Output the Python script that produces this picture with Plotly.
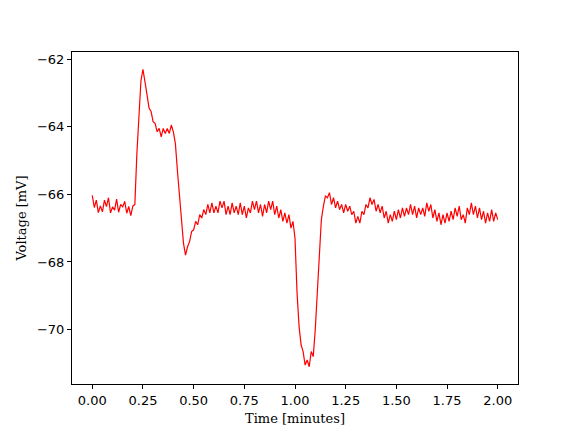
import numpy as np
import plotly.graph_objects as go

# sample times [minutes], one sample every 0.01 min
time_min = np.round(np.arange(0, 201) * 0.01, 2)

# membrane voltage [mV]
voltage_mv = [
    -66.03, -66.39, -66.17, -66.54, -66.34, -66.52, -66.17, -66.36, -66.10, -66.55,
    -66.37, -66.47, -66.14, -66.53, -66.30, -66.37, -66.21, -66.56, -66.36, -66.63,
    -66.35, -66.30, -64.80, -63.55, -62.65, -62.30, -62.75, -63.05, -63.45, -63.55,
    -63.85, -63.90, -64.15, -64.05, -64.30, -64.05, -64.20, -64.05, -64.20, -63.95,
    -64.15, -64.50, -65.30, -66.10, -66.80, -67.45, -67.80, -67.55, -67.40, -67.10,
    -67.05, -66.80, -66.90, -66.60, -66.70, -66.45, -66.60, -66.30, -66.55, -66.25,
    -66.55, -66.35, -66.55, -66.20, -66.40, -66.20, -66.60, -66.35, -66.60, -66.25,
    -66.55, -66.35, -66.60, -66.25, -66.60, -66.35, -66.70, -66.40, -66.55, -66.20,
    -66.45, -66.20, -66.55, -66.30, -66.65, -66.30, -66.55, -66.20, -66.45, -66.20,
    -66.60, -66.35, -66.70, -66.45, -66.80, -66.55, -66.85, -66.60, -67.00, -66.80,
    -67.30, -68.90, -69.90, -70.45, -70.65, -71.05, -70.90, -71.10, -70.65, -70.80,
    -70.00, -68.80, -67.60, -66.75, -66.35, -66.05, -66.10, -65.95, -66.30, -66.10,
    -66.40, -66.20, -66.45, -66.30, -66.55, -66.30, -66.50, -66.35, -66.60, -66.50,
    -66.85, -66.65, -66.85, -66.50, -66.60, -66.30, -66.40, -66.10, -66.30, -66.15,
    -66.50, -66.30, -66.55, -66.35, -66.70, -66.50, -66.85, -66.60, -66.80, -66.50,
    -66.75, -66.45, -66.70, -66.40, -66.65, -66.40, -66.60, -66.30, -66.60, -66.35,
    -66.70, -66.40, -66.60, -66.40, -66.65, -66.25, -66.50, -66.30, -66.70, -66.45,
    -66.80, -66.55, -66.90, -66.60, -66.85, -66.55, -66.80, -66.50, -66.75, -66.40,
    -66.65, -66.35, -66.75, -66.60, -66.85, -66.40, -66.60, -66.25, -66.60, -66.35,
    -66.70, -66.40, -66.75, -66.50, -66.85, -66.55, -66.80, -66.45, -66.80, -66.55,
    -66.75,
]

x_ticks = [0, 0.25, 0.5, 0.75, 1.0, 1.25, 1.5, 1.75, 2.0]
x_labels = ["0.00", "0.25", "0.50", "0.75", "1.00", "1.25", "1.50", "1.75", "2.00"]
y_ticks = [-70, -68, -66, -64, -62]
y_labels = ["\u221270", "\u221268", "\u221266", "\u221264", "\u221262"]

fig = go.Figure(go.Scatter(
    x=time_min, y=voltage_mv, mode="lines",
    line=dict(color="red", width=1.2),
    showlegend=False,
))

axis_style = dict(
    showline=True, linecolor="black", linewidth=1, mirror=True,
    ticks="outside", ticklen=4, tickwidth=1, tickcolor="black",
    showgrid=False, zeroline=False, automargin=False,
    tickfont=dict(family="DejaVu Sans", size=13, color="black"),
)

fig.update_xaxes(
    range=[-0.1, 2.1], tickvals=x_ticks, ticktext=x_labels,
    title=dict(text="Time [minutes]", font=dict(family="DejaVu Serif", size=13, color="black"), standoff=7),
    **axis_style,
)
fig.update_yaxes(
    range=[-71.61, -61.79], tickvals=y_ticks, ticktext=y_labels,
    title=dict(text="Voltage [mV]", font=dict(family="DejaVu Serif", size=13, color="black"), standoff=7),
    **axis_style,
)

fig.update_layout(
    width=576, height=432,
    margin=dict(l=72, r=58, t=52, b=48),
    paper_bgcolor="white", plot_bgcolor="white",
)

# drop the browser's default body margin so the figure sits at the page corner
fig.write_html("out.html", config={"displayModeBar": False},
               post_script="document.body.style.margin='0';")
